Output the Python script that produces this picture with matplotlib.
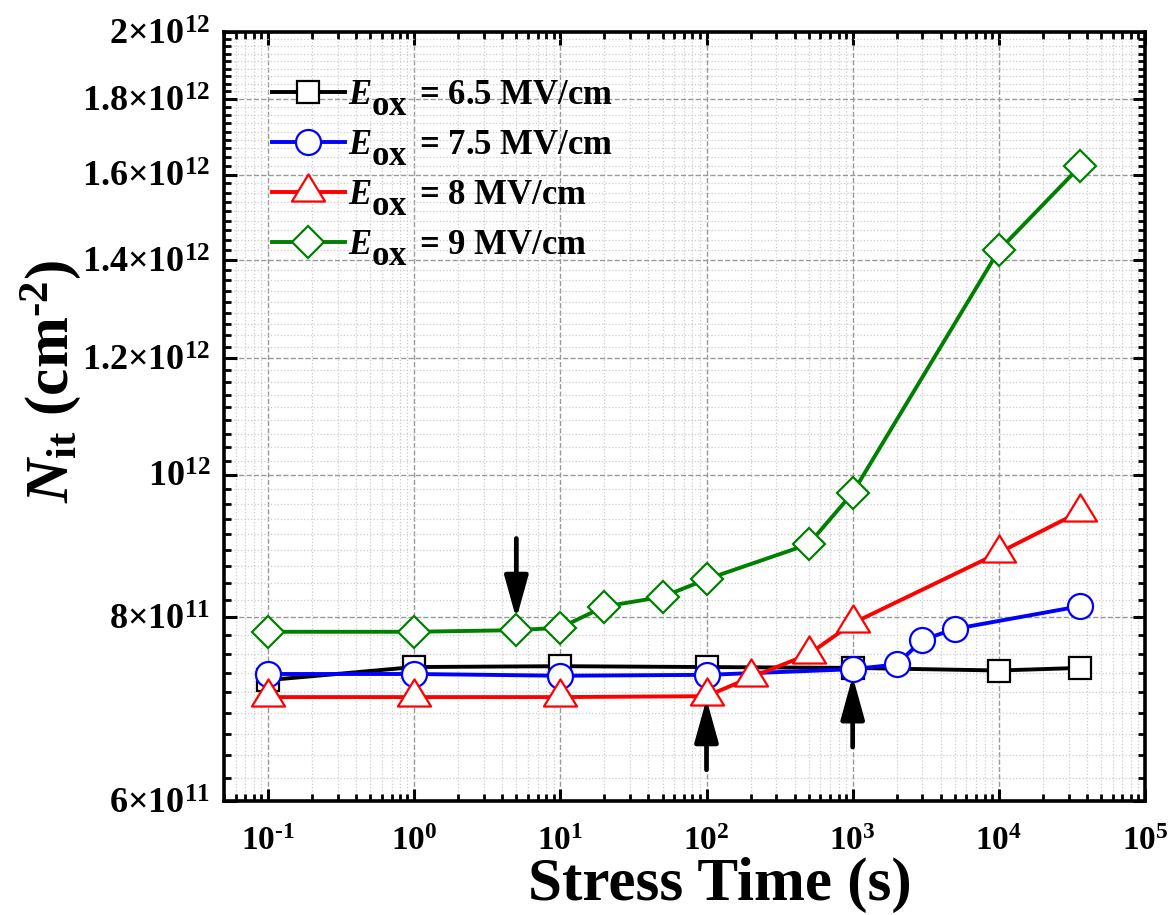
import numpy as np
import matplotlib
matplotlib.use("Agg")
import matplotlib.pyplot as plt
from matplotlib.path import Path
from matplotlib.ticker import FixedLocator, FixedFormatter, LogLocator, NullFormatter

plt.rcParams['font.family'] = ['Liberation Serif', 'DejaVu Serif']
plt.rcParams['font.weight'] = 'bold'
plt.rcParams['mathtext.fontset'] = 'custom'
plt.rcParams['mathtext.rm'] = 'Liberation Serif:bold'
plt.rcParams['mathtext.bf'] = 'Liberation Serif:bold'
plt.rcParams['mathtext.it'] = 'Liberation Serif:italic:bold'

# stress time (s) and Nit (cm^-2) per oxide field
t_65 = [0.1, 1, 10, 100, 1000, 10000, 36000]
n_65 = [7.25e11, 7.40e11, 7.41e11, 7.40e11, 7.39e11, 7.36e11, 7.39e11]

t_75 = [0.1, 1, 10, 100, 1000, 2000, 3000, 5000, 36000]
n_75 = [7.32e11, 7.32e11, 7.30e11, 7.31e11, 7.375e11, 7.43e11, 7.72e11, 7.855e11, 8.14e11]

t_8 = [0.1, 1, 10, 100, 200, 500, 1000, 10000, 36000]
n_8 = [7.06e11, 7.06e11, 7.06e11, 7.07e11, 7.28e11, 7.55e11, 7.925e11, 8.85e11, 9.44e11]

t_9 = [0.1, 1, 5, 10, 20, 50, 100, 500, 1000, 10000, 36000]
n_9 = [7.82e11, 7.82e11, 7.84e11, 7.87e11, 8.135e11, 8.26e11, 8.49e11, 8.97e11, 9.72e11, 1.421e12, 1.621e12]

# full-size, lowered "ox" subscript
eox = r'$E\genfrac{}{}{0}{0}{\,}{\mathrm{ox}}$'
fields = ['6.5', '7.5', '8', '9']
labels = [eox + ' = ' + f + ' MV/cm' for f in fields]

y_ticks = [6e11, 8e11, 1e12, 1.2e12, 1.4e12, 1.6e12, 1.8e12, 2e12]
y_ticklabels = [r'$6{\times}10^{11}$', r'$8{\times}10^{11}$', r'$10^{12}$', r'$1.2{\times}10^{12}$',
                r'$1.4{\times}10^{12}$', r'$1.6{\times}10^{12}$', r'$1.8{\times}10^{12}$', r'$2{\times}10^{12}$']
x_ticks = [1e-1, 1e0, 1e1, 1e2, 1e3, 1e4, 1e5]
x_ticklabels = [r'$10^{\text{-}1}$', r'$10^{0}$', r'$10^{1}$', r'$10^{2}$', r'$10^{3}$', r'$10^{4}$', r'$10^{5}$']

# triangle centred on its centroid, like Origin draws it
tri = Path([(0, 18), (-16.5, -9), (16.5, -9), (0, 18)],
           [Path.MOVETO, Path.LINETO, Path.LINETO, Path.CLOSEPOLY])

fig = plt.figure(figsize=(11.74, 9.15), dpi=100)
ax = fig.add_axes([0.1908, 0.1246, 0.7845, 0.8404])

lw = 2.8
mew = 1.6
ax.plot(t_65, n_65, '-', color='black', marker='s', ms=16.5, mfc='white', mec='black', mew=mew, lw=lw, label=labels[0])
ax.plot(t_75, n_75, '-', color='#0000ff', marker='o', ms=18, mfc='white', mec='#0000ff', mew=mew, lw=lw, label=labels[1])
ax.plot(t_8, n_8, '-', color='#ff0000', marker=tri, ms=26, mfc='white', mec='#ff0000', mew=mew, lw=lw, label=labels[2])
ax.plot(t_9, n_9, '-', color='#008000', marker='D', ms=16.5, mfc='white', mec='#008000', mew=mew, lw=lw, label=labels[3])

ax.set_xscale('log')
ax.set_yscale('log')
ax.set_xlim(0.05, 1e5)
ax.set_ylim(6e11, 2e12)

ax.xaxis.set_major_locator(FixedLocator(x_ticks))
ax.xaxis.set_major_formatter(FixedFormatter(x_ticklabels))
ax.xaxis.set_minor_locator(LogLocator(base=10, subs=np.arange(2, 10), numticks=20))
ax.xaxis.set_minor_formatter(NullFormatter())

ax.yaxis.set_major_locator(FixedLocator(y_ticks))
ax.yaxis.set_major_formatter(FixedFormatter(y_ticklabels))
y_minor = []
for a, b in zip(y_ticks[:-1], y_ticks[1:]):
    y_minor.extend(np.linspace(a, b, 10)[1:-1])
ax.yaxis.set_minor_locator(FixedLocator(y_minor))
ax.yaxis.set_minor_formatter(NullFormatter())

ax.tick_params(which='major', direction='in', length=9, width=2.2, top=True, right=True)
ax.tick_params(which='minor', direction='in', length=5, width=2.0, top=True, right=True)
ax.tick_params(axis='x', which='major', labelsize=24, pad=18)
ax.tick_params(axis='y', which='major', labelsize=26, pad=10)
ax.grid(which='major', linestyle='--', color='#999999', lw=1.0)
ax.grid(which='minor', linestyle=':', color='#cccccc', lw=0.9)
ax.set_axisbelow(True)
for sp in ax.spines.values():
    sp.set_linewidth(2.6)

ax.set_xlabel('Stress Time (s)', fontsize=44, fontweight='bold')
ax.xaxis.set_label_coords(0.5385, -0.073)
ax.set_ylabel(r'$N_{\rm it}$ (cm$^{\text{-}2}$)', fontsize=44, fontweight='bold')
ax.yaxis.set_label_coords(-0.153, 0.546)

leg = ax.legend(loc='upper left', bbox_to_anchor=(0.037, 0.958), frameon=False, fontsize=25,
                handlelength=2.1, handletextpad=0.1, labelspacing=0.3, borderaxespad=0)

# arrows marking onset points
arrow = dict(arrowstyle='-|>,head_length=1.3,head_width=0.36', color='black', lw=3.4,
             mutation_scale=20, shrinkA=0)
ax.annotate('', xy=(t_9[2], n_9[2]), xytext=(0, 66), textcoords='offset points',
            arrowprops=dict(arrow, shrinkB=8))
ax.annotate('', xy=(t_8[3], n_8[3]), xytext=(0, -53), textcoords='offset points',
            arrowprops=dict(arrow, shrinkB=2))
ax.annotate('', xy=(t_75[4], n_75[4]), xytext=(0, -56), textcoords='offset points',
            arrowprops=dict(arrow, shrinkB=5))

fig.savefig('out.png', dpi=100)
